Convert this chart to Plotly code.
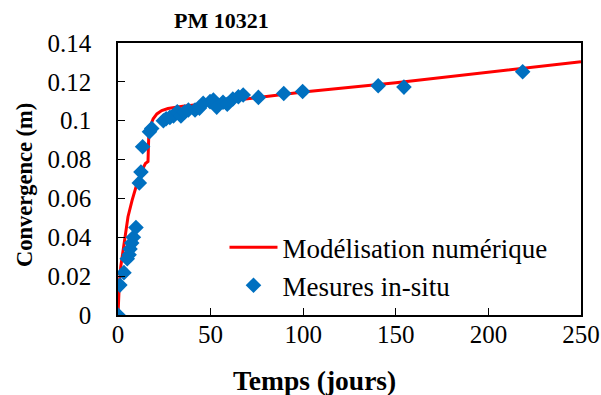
import plotly.graph_objects as go

# Numerical model (days, m)
model_t = [0, 0.3, 0.7, 1.5, 2.7, 4, 5.4, 7.6, 10.3, 13, 14.8, 16.2, 16.6, 17.3, 19, 21,
           23.6, 27, 35, 50, 75, 100, 150, 200, 250]
model_c = [0, 0.008, 0.016, 0.025, 0.0335, 0.043, 0.0506, 0.059, 0.0678, 0.0746, 0.078,
           0.079, 0.092, 0.097, 0.101, 0.1035, 0.1052, 0.1063, 0.1075, 0.109, 0.112,
           0.1148, 0.1195, 0.125, 0.1304]

# In-situ measurements (days, m)
meas_t = [0, 1, 3.2, 5, 6, 6.5, 7.4, 8.3, 9.7, 11.5, 12.4, 13.3, 17, 18.2, 24.5, 26, 28,
          30, 32, 34, 36, 38, 41.6, 44, 46, 49.7, 51.5, 53.3, 56.7, 59, 62, 65, 67.6,
          75.8, 89.5, 99.7, 140.5, 154.4, 218.5]
meas_c = [0, 0.0154, 0.0218, 0.029, 0.031, 0.034, 0.037, 0.040, 0.045, 0.068, 0.0736,
          0.0866, 0.0943, 0.096, 0.100, 0.101, 0.1017, 0.1025, 0.1046, 0.1024, 0.1045,
          0.1055, 0.1055, 0.1065, 0.109, 0.1098, 0.1107, 0.107, 0.1095, 0.1085, 0.1112,
          0.1123, 0.1132, 0.112, 0.114, 0.115, 0.118, 0.1173, 0.1252]

x_ticks = [0, 50, 100, 150, 200, 250]
y_ticks = [0, 0.02, 0.04, 0.06, 0.08, 0.1, 0.12, 0.14]
y_labels = ["0", "0.02", "0.04", "0.06", "0.08", "0.1", "0.12", "0.14"]

FONT = "Liberation Serif"

fig = go.Figure()
fig.add_trace(go.Scatter(x=model_t, y=model_c, mode="lines", name="Modélisation numérique",
                         line=dict(color="#FF0000", width=3), legendgroup="a"))
fig.add_trace(go.Scatter(x=meas_t, y=meas_c, mode="markers", name="Mesures in-situ",
                         marker=dict(symbol="diamond", size=12, color="#0070C0"),
                         legendgroup="b"))

fig.update_layout(
    width=601, height=395,
    margin=dict(l=118, r=20, t=43, b=80),
    paper_bgcolor="white", plot_bgcolor="white",
    font=dict(family=FONT, size=24, color="black"),
    showlegend=True,
    legend=dict(x=0.23, y=0.178, xanchor="left", yanchor="middle", itemwidth=48,
                bgcolor="rgba(0,0,0,0)", font=dict(family=FONT, size=27),
                tracegroupgap=0),
    xaxis=dict(range=[0, 250], tickvals=x_ticks, ticks="inside", ticklen=7,
               tickcolor="black", showline=True, linecolor="black", linewidth=1.5,
               mirror=True, showgrid=False, zeroline=False, ticklabelstandoff=-4,
               tickfont=dict(family=FONT, size=25), automargin=False),
    yaxis=dict(range=[0, 0.14], tickvals=y_ticks, ticktext=y_labels, ticks="inside",
               ticklen=7, tickcolor="black", showline=True, linecolor="black",
               linewidth=1.5, mirror=True, showgrid=False, zeroline=False,
               ticklabelstandoff=20, tickfont=dict(family=FONT, size=25),
               automargin=False),
    annotations=[
        dict(text="<b>PM 10321</b>", x=221, y=20, showarrow=False,
             font=dict(family=FONT, size=22)),
        dict(text="<b>Temps (jours)</b>", x=314, y=380, showarrow=False,
             font=dict(family=FONT, size=27.5)),
        dict(text="<b>Convergence (m)</b>", x=25, y=185, showarrow=False,
             textangle=-90, font=dict(family=FONT, size=22.5)),
    ],
)

# Convert pixel positions of annotations to paper coordinates
W, H = 601, 395
L, R, T, B = 118, 20, 43, 80
pw, ph = W - L - R, H - T - B
for a in fig.layout.annotations:
    a.xref = "paper"; a.yref = "paper"
    a.x = (a.x - L) / pw
    a.y = (H - B - a.y) / ph
    a.xanchor = "center"; a.yanchor = "middle"

fig.write_html("out.html")
